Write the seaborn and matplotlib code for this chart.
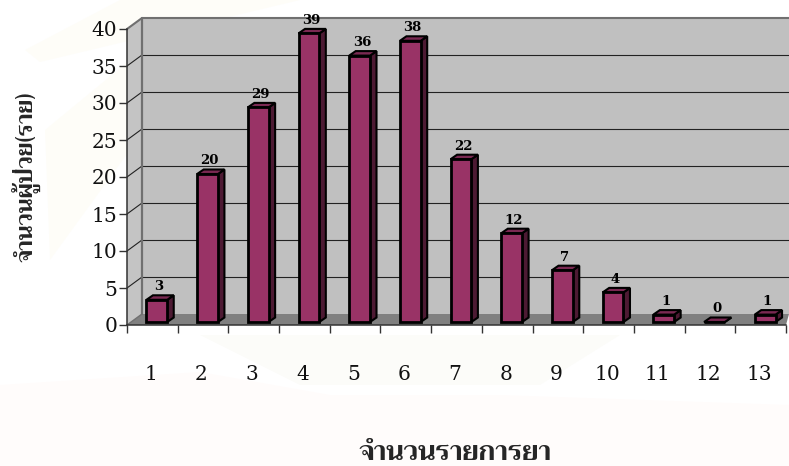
import matplotlib
matplotlib.use('Agg')
import matplotlib.pyplot as plt
import seaborn as sns
import pandas as pd
from matplotlib.patches import Polygon
from matplotlib.transforms import Affine2D, IdentityTransform

categories = ['1', '2', '3', '4', '5', '6', '7', '8', '9', '10', '11', '12', '13']
patients = [3, 20, 29, 39, 36, 38, 22, 12, 7, 4, 1, 0, 1]
y_ticks = [0, 5, 10, 15, 20, 25, 30, 35, 40]
x_title = 'จำนวนรายการยา'
y_title = 'จำนวนผู้ป่วย(ราย)'

W, H = 789, 466
sns.set_theme(style='white')
plt.rcParams['font.family'] = ['DejaVu Serif', 'Liberation Serif']
fig = plt.figure(figsize=(W / 100, H / 100), dpi=100, facecolor='white')

px = Affine2D().scale(1, -1).translate(0, H)
def poly(pts, **kw):
    p = Polygon(pts, closed=True, transform=px, clip_on=False, **kw)
    fig.add_artist(p)
    return p

# very faint watermark tint
poly([(0, 385), (200, 372), (330, 395), (500, 395), (789, 405), (789, 466), (0, 466)],
     fc='#fffcfb', ec='none', zorder=-5)
poly([(25, 50), (120, 0), (300, 0), (40, 62)], fc='#fefdf8', ec='none', zorder=-5)
poly([(45, 130), (130, 60), (130, 150), (50, 260)], fc='#fefdf8', ec='none', zorder=-5)
poly([(200, 335), (620, 335), (540, 385), (300, 385)], fc='#fcfcf9', ec='none', zorder=-5)

L, R, T, B = 127, 786, 29, 325
ax = fig.add_axes([L / W, 1 - B / H, (R - L) / W, (B - T) / H], facecolor='none')
df = pd.DataFrame({'n': categories, 'v': patients})
sns.barplot(data=df, x='n', y='v', order=categories, color='#993366', saturation=1,
            width=0.41, ax=ax, edgecolor='black', linewidth=2.0, zorder=5)
ax.set_xlim(-0.5, 12.5)
ax.set_ylim(0, 40)
ax.set_xlabel('')
ax.set_ylabel('')

DX, DY = 15, 11
BX, BY = 4.5, 3
SX, SY = 6.5, 4.5
wall_c, floor_c = '#c0c0c0', '#808080'
edge = '#707070'

ax_to_px = lambda yd: B - yd / 40 * (B - T)
poly([(L + DX, T - DY), (W, T - DY), (W, B - DY), (L + DX, B - DY)], fc=wall_c, ec='none', zorder=-2)
poly([(L, T), (L + DX, T - DY), (L + DX, B - DY), (L, B)], fc='#c4c4c4', ec='none', zorder=-2)
poly([(L, B), (L + DX, B - DY), (W, B - DY), (R, B)], fc=floor_c, ec='none', zorder=-2)

def line(xs, ys, **kw):
    fig.add_artist(plt.Line2D(xs, [H - y for y in ys], transform=IdentityTransform(), **kw))

for t in y_ticks[1:-1]:
    yy = ax_to_px(t)
    line([L, L + DX], [yy, yy - DY], color='#222222', lw=0.8, zorder=-1)
    line([L + DX, W], [yy - DY, yy - DY], color='#222222', lw=0.8, zorder=-1)
ytop = ax_to_px(40)
line([L, L + DX, W], [ytop, ytop - DY, ytop - DY], color=edge, lw=1.5, zorder=-1)
line([L + DX, L + DX], [B - DY, T - DY], color=edge, lw=1.6, zorder=-1)
line([L, L + DX], [B, B - DY], color=edge, lw=1.0, zorder=-1)

shift = Affine2D().translate(BX, BY)
for bar, v in zip(ax.patches, patients):
    bar.set_transform(bar.get_data_transform() + shift)
    bar.set_clip_on(False)
    x0 = bar.get_x(); x1 = x0 + bar.get_width()
    (xa, yb), (xb, yt) = ax.transData.transform([(x0, 0), (x1, v)])
    xa += BX; xb += BX; yb += BY; yt += BY
    face = dict(transform=IdentityTransform(), ec='black', lw=1.5, clip_on=False, zorder=4)
    ax.add_patch(Polygon([(xb, yb), (xb + SX, yb + SY), (xb + SX, yt + SY), (xb, yt)], fc='#4d1a33', **face))
    ax.add_patch(Polygon([(xa, yt), (xb, yt), (xb + SX, yt + SY), (xa + SX, yt + SY)], fc='#7a2952', **face))
    ax.annotate(str(v), xy=((x0 + x1) / 2, v), xytext=(BX + SX / 2 - 1, BY + SY + 2),
                textcoords='offset pixels', ha='center', va='bottom', fontsize=9.5,
                fontweight='bold', color='black', annotation_clip=False, zorder=6)

for s in ['top', 'right']:
    ax.spines[s].set_visible(False)
for s in ['left', 'bottom']:
    ax.spines[s].set_color('#333333')
    ax.spines[s].set_linewidth(1.1)
    ax.spines[s].set_zorder(3)
ax.set_yticks(y_ticks)
ax.set_yticklabels([str(t) for t in y_ticks], fontsize=14.5, color='#111111')
ax.set_xticks(range(13))
ax.set_xticklabels(categories, fontsize=14.5, color='#111111')
ax.tick_params(axis='y', length=6, width=1.0, color='#333333', left=True, pad=1)
ax.tick_params(axis='x', length=0, pad=29)
for lab in ax.get_xticklabels():
    lab.set_transform(lab.get_transform() + Affine2D().translate(-1.5, 0))
ax.set_xticks([i - 0.5 for i in range(14)], minor=True)
ax.tick_params(axis='x', which='minor', length=6, width=1.0, color='#333333', bottom=True)

fig.text(455 / W, 1 - 453 / H, x_title, ha='center', va='center', fontsize=19.5,
         fontweight='bold', family=['Trirong', 'Liberation Serif'])
fig.text(27 / W, 1 - 177 / H, y_title, ha='center', va='center', rotation=90, fontsize=16.5,
         fontweight='bold', family=['Trirong', 'Liberation Serif'])

fig.savefig('out.png', dpi=100, facecolor='white')
